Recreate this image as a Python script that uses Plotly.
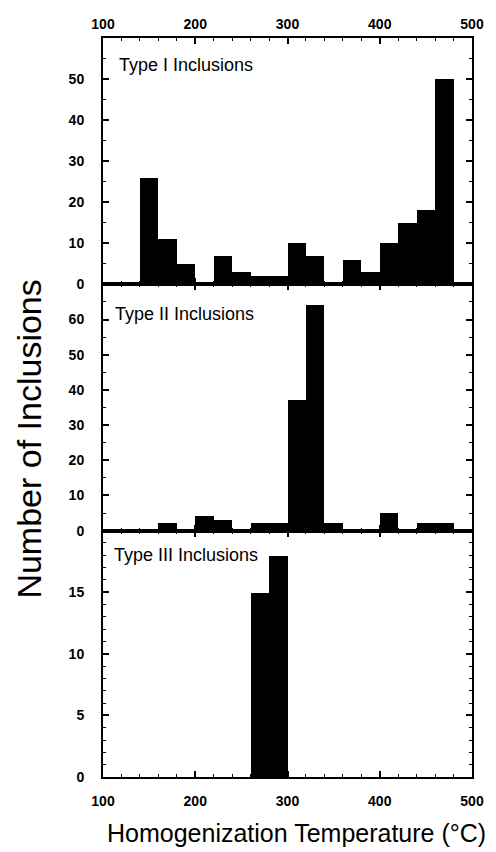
import plotly.graph_objects as go
from plotly.subplots import make_subplots

# Bin left edges (°C), 20 °C wide bins
bin_left = [140, 160, 180, 200, 220, 240, 260, 280, 300, 320, 340, 360, 380, 400, 420, 440, 460]
bin_width = 20

type1_counts = [26, 11, 5, 0, 7, 3, 2, 2, 10, 7, 0, 6, 3, 10, 15, 18, 50]
type2_counts = [0, 2, 0, 4, 3, 0, 2, 2, 37, 64, 2, 0, 0, 5, 0, 2, 2]
type3_counts = [0, 0, 0, 0, 0, 0, 15, 18, 0, 0, 0, 0, 0, 0, 0, 0, 0]

panel_labels = ["Type I Inclusions", "Type II Inclusions", "Type III Inclusions"]
x_ticks = [100, 200, 300, 400, 500]
y1_ticks = [0, 10, 20, 30, 40, 50]
y2_ticks = [0, 10, 20, 30, 40, 50, 60]
y3_ticks = [0, 5, 10, 15]

centers = [b + bin_width / 2 for b in bin_left]

FONT = "Liberation Sans, Arial, Helvetica, sans-serif"

fig = make_subplots(rows=3, cols=1, shared_xaxes=True, vertical_spacing=0)

for i, counts in enumerate([type1_counts, type2_counts, type3_counts]):
    fig.add_trace(
        go.Bar(x=centers, y=counts, width=[bin_width] * len(centers),
               marker=dict(color="black", line=dict(width=0)),
               showlegend=False, hoverinfo="x+y"),
        row=i + 1, col=1)

common_axis = dict(
    showline=True, linecolor="black", linewidth=2, mirror="ticks",
    ticks="inside", ticklen=6, tickwidth=1.5, tickcolor="black",
    showgrid=False, zeroline=False,
    tickfont=dict(family=FONT, size=14, color="black", weight="bold"),
)

for r in (1, 2, 3):
    fig.update_xaxes(range=[100, 500], tickvals=x_ticks,
                     minor=dict(ticks="inside", ticklen=3, tickwidth=1, dtick=20, tick0=100, tickcolor="black"),
                     row=r, col=1, **common_axis)

fig.update_xaxes(side="top", showticklabels=True, ticklabelstandoff=1, row=1, col=1)
fig.update_xaxes(showticklabels=False, row=2, col=1)
fig.update_xaxes(showticklabels=True, ticklabelstandoff=10, row=3, col=1)

fig.update_yaxes(range=[0, 60], tickvals=y1_ticks,
                 minor=dict(ticks="inside", ticklen=3, tickwidth=1, dtick=5, tickcolor="black"),
                 ticklabelstandoff=14, row=1, col=1, **common_axis)
fig.update_yaxes(range=[0, 70], tickvals=y2_ticks,
                 minor=dict(ticks="inside", ticklen=3, tickwidth=1, dtick=5, tickcolor="black"),
                 ticklabelstandoff=14, row=2, col=1, **common_axis)
fig.update_yaxes(range=[0, 20], tickvals=y3_ticks,
                 minor=dict(ticks="inside", ticklen=3, tickwidth=1, dtick=1, tickcolor="black"),
                 ticklabelstandoff=14, row=3, col=1, **common_axis)

ann_pos = [("x domain", "y domain", 0.037, 0.89),
           ("x2 domain", "y2 domain", 0.027, 0.88),
           ("x3 domain", "y3 domain", 0.024, 0.90)]
for text, (xr, yr, ax, ay) in zip(panel_labels, ann_pos):
    fig.add_annotation(text=text, xref=xr, yref=yr, x=ax, y=ay,
                       xanchor="left", yanchor="middle", showarrow=False,
                       font=dict(family=FONT, size=18, color="black"))

fig.add_annotation(text="Number of Inclusions", xref="paper", yref="paper",
                   x=-0.2016, y=0.4574, textangle=-90, showarrow=False,
                   xanchor="center", yanchor="middle",
                   font=dict(family=FONT, size=34, color="black"))
fig.add_annotation(text="Homogenization Temperature (°C)", xref="paper", yref="paper",
                   x=0.525, y=-0.0758, showarrow=False,
                   xanchor="center", yanchor="middle",
                   font=dict(family=FONT, size=25, color="black"))

fig.update_layout(
    width=496, height=852,
    margin=dict(l=103, r=16, t=38, b=75),
    plot_bgcolor="white", paper_bgcolor="white",
    bargap=0,
)

fig.write_html("out.html",
               config={"displayModeBar": False},
               post_script="document.body.style.margin='0';document.body.style.overflow='hidden';")
